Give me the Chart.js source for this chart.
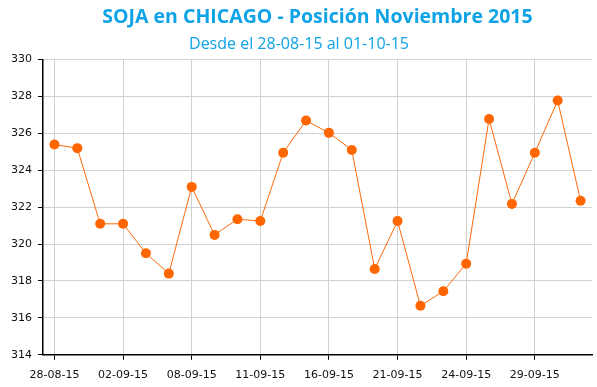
<!DOCTYPE html>
<html><head><meta charset="utf-8">
<script src="https://cdn.jsdelivr.net/npm/chart.js@4/dist/chart.umd.min.js"></script>
<style>html,body{margin:0;padding:0;background:#fff}#wrap{width:597px;height:387px}</style>
</head><body><div id="wrap"><canvas id="c" width="597" height="387"></canvas></div>
<script>
const categories = ["28-08-15","31-08-15","01-09-15","02-09-15","03-09-15","04-09-15","08-09-15","09-09-15","10-09-15","11-09-15","14-09-15","15-09-15","16-09-15","17-09-15","18-09-15","21-09-15","22-09-15","23-09-15","24-09-15","25-09-15","28-09-15","29-09-15","30-09-15","01-10-15"];
const prices = [325.4,325.2,321.1,321.1,319.5,318.4,323.1,320.5,321.35,321.25,324.95,326.7,326.03,325.1,318.65,321.25,316.66,317.44,318.94,326.78,322.18,324.95,327.78,322.35];
const yTicks = [314,316,318,320,322,324,326,328,330];
const titleText = "SOJA en CHICAGO - Posición Noviembre 2015";
const subtitleText = "Desde el 28-08-15 al 01-10-15";

new Chart(document.getElementById('c'), {
  type: 'line',
  data: { labels: categories, datasets: [{
    data: prices, borderColor: '#ff6a0a', backgroundColor: '#ff6600',
    borderWidth: 1, pointRadius: 5, pointHoverRadius: 5, pointBorderWidth: 0,
    pointBackgroundColor: '#ff6600', tension: 0, fill: false
  }]},
  options: {
    responsive: false, animation: false,
    layout: { padding: { left: 5, right: 4, top: 4, bottom: -4 } },
    plugins: {
      legend: { display: false }, tooltip: { enabled: false },
      title: { display: true, text: titleText, color: '#0ea2e6', fullSize: false,
        font: { family: 'Open Sans', size: 19.5, weight: 'bold' }, padding: { top: 2, bottom: 5 } },
      subtitle: { display: true, text: subtitleText, color: '#0ea2e6',
        font: { family: 'Open Sans', size: 16, weight: 'normal' }, padding: { top: 0, bottom: 6 } }
    },
    scales: {
      x: { offset: true,
        grid: { color: '#d0d0d0', tickColor: '#000', tickLength: 5, offset: false, lineWidth: 1 },
        border: { color: '#000', width: 1.5 },
        ticks: { autoSkip: false, maxRotation: 0, color: '#111', padding: 9,
          font: { family: 'DejaVu Sans', size: 11 },
          callback: function(v, i) { return i % 3 === 0 ? categories[i] : null; } }
      },
      y: { min: yTicks[0], max: yTicks[yTicks.length-1],
        afterBuildTicks: (s) => { s.ticks = yTicks.map(v => ({ value: v })); },
        grid: { color: '#d0d0d0', tickColor: '#000', tickLength: 5 },
        border: { color: '#000', width: 1.5 },
        ticks: { color: '#111', padding: 6, font: { family: 'DejaVu Sans', size: 11 } }
      }
    }
  }
});
</script></body></html>
